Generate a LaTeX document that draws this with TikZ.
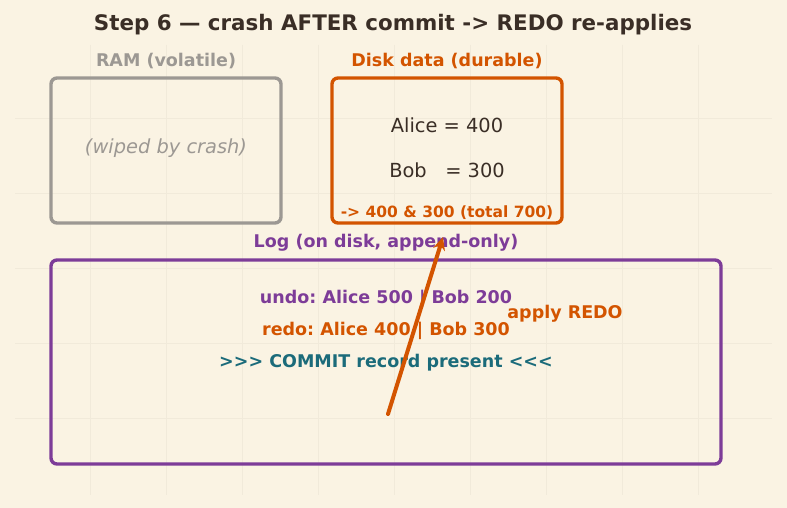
\documentclass[tikz,border=0pt]{standalone}
\usepackage{fontspec}
\setmainfont{DejaVu Sans}
\usetikzlibrary{arrows.meta}
\frenchspacing
\definecolor{bg}{HTML}{FAF3E3}
\definecolor{gridc}{HTML}{F1EADA}
\definecolor{ink}{HTML}{3A2E26}
\definecolor{ramgray}{HTML}{9C9893}
\definecolor{dorange}{HTML}{D35400}
\definecolor{lpurple}{HTML}{7D3C98}
\definecolor{cteal}{HTML}{1B6B7A}
\tikzset{
  box/.style={draw, line width=3.4pt, rounded corners=6pt},
  lbl/.style={font=\fontsize{17.5}{21}\selectfont\bfseries, inner sep=0pt},
  val/.style={font=\fontsize{19.4}{23}\selectfont, text=ink, inner sep=0pt},
}
\begin{document}
\begin{tikzpicture}[x=1pt,y=-1pt]
\fill[bg] (0,0) rectangle (787,508);
\useasboundingbox (0,0) rectangle (787,508);
\foreach \gx in {90,166,242,318,394,470,546,622,698}
  \draw[gridc, line width=0.6pt] (\gx,45) -- (\gx,495);
\foreach \gy in {118,193,268,343,418}
  \draw[gridc, line width=0.6pt] (15,\gy) -- (772,\gy);
\node[font=\fontsize{21.4}{25}\selectfont\bfseries, text=ink, inner sep=0pt] (title) at (393,24.5) {Step 6 — crash AFTER commit -> REDO re-applies};
\node[box, draw=ramgray, minimum width=230pt, minimum height=145pt] (ram) at (166,150.5) {};
\node[box, draw=dorange, minimum width=230pt, minimum height=145pt] (disk) at (447,150.5) {};
\node[box, draw=lpurple, minimum width=670pt, minimum height=204pt] (log) at (386,362) {};
\node[lbl, text=ramgray] (ramlbl) at (166,61.5) {RAM (volatile)};
\node[lbl, text=dorange] (disklbl) at (447,61.5) {Disk data (durable)};
\node[val, text=ramgray, font=\fontsize{19.4}{23}\selectfont\itshape] (wiped) at (166,148.5) {(wiped by crash)};
\node[val] (alice) at (447,125) {Alice = 400};
\node[val] (bob) at (447,170) {Bob\ \ \ = 300};
\node[lbl, text=dorange, font=\fontsize{15.5}{18}\selectfont\bfseries] (total) at (447,212.5) {-> 400 \& 300 (total 700)};
\node[lbl, text=lpurple] (loglbl) at (386,242.5) {Log (on disk, append-only)};
\node[lbl, text=lpurple] (undo) at (386,298.5) {undo: Alice 500 | Bob 200};
\node[lbl, text=dorange] (redo) at (386,330.5) {redo: Alice 400 | Bob 300};
\node[lbl, text=cteal] (commit) at (386,362.5) {>{}>{}> COMMIT record present <{}<{}<};
\node[lbl, text=dorange] (apply) at (565,313.5) {apply REDO};
\coordinate (from) at (388,414);
\coordinate (to) at (443,237);
\draw[dorange, line width=4pt, line cap=round, -{Stealth[length=13pt,width=12pt]}] (from) -- (to);
\end{tikzpicture}
\end{document}
